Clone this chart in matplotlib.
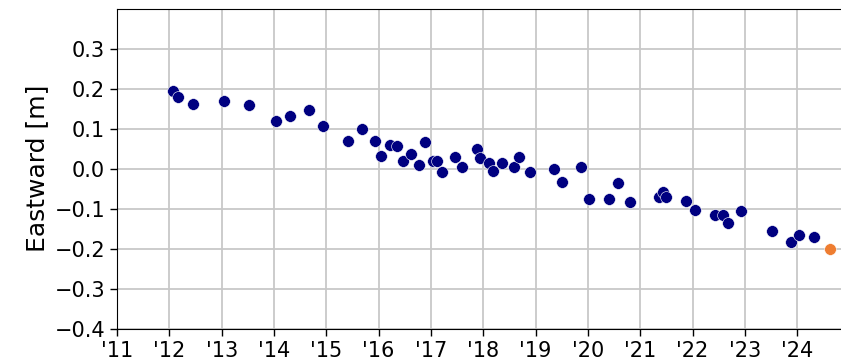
import matplotlib.pyplot as plt
import numpy as np

# GNSS eastward displacement, decimal year vs metres
years = [2012.065, 2012.166, 2012.459, 2013.04, 2013.523, 2014.039, 2014.306,
         2014.67, 2014.943, 2015.419, 2015.688, 2015.931, 2016.045, 2016.217,
         2016.345, 2016.466, 2016.613, 2016.766, 2016.886, 2017.045, 2017.121,
         2017.205, 2017.465, 2017.593, 2017.874, 2017.937, 2018.115, 2018.191,
         2018.352, 2018.593, 2018.683, 2018.893, 2019.346, 2019.504, 2019.862,
         2020.02, 2020.403, 2020.569, 2020.804, 2021.352, 2021.44, 2021.492,
         2021.868, 2022.046, 2022.422, 2022.575, 2022.682, 2022.925, 2023.512,
         2023.88, 2024.039, 2024.32]
east = [0.195, 0.1785, 0.162, 0.170, 0.159, 0.120, 0.1325,
        0.147, 0.106, 0.070, 0.0985, 0.070, 0.0325, 0.060,
        0.057, 0.020, 0.037, 0.0085, 0.066, 0.020, 0.020,
        -0.008, 0.030, 0.005, 0.050, 0.026, 0.0135, -0.005,
        0.0135, 0.005, 0.030, -0.008, -0.001, -0.033, 0.0055,
        -0.075, -0.075, -0.035, -0.083, -0.070, -0.058, -0.0715,
        -0.080, -0.104, -0.116, -0.1165, -0.1365, -0.1065, -0.1565,
        -0.184, -0.1665, -0.1715]

# latest survey, highlighted
latest_year = [2024.625]
latest_east = [-0.200]

tick_years = list(range(2011, 2025))
tick_labels = ["'%02d" % (y % 100) for y in tick_years]
yticks = np.arange(-0.4, 0.31, 0.1)

fig = plt.figure(figsize=(8.41, 3.58), dpi=100)
ax = fig.add_axes([0.1391, 0.0818, 0.8609, 0.8939])

ax.scatter(years, east, s=72, color='#000080', edgecolors='white',
           linewidths=0.4, zorder=3)
ax.scatter(latest_year, latest_east, s=72, color='#ee7d31',
           edgecolors='white', linewidths=0.4, zorder=4)

ax.set_xlim(2011, 2024.836)
ax.set_ylim(-0.4, 0.4)
ax.set_xticks(tick_years)
ax.set_xticklabels(tick_labels)
ax.set_yticks(yticks)
ax.yaxis.set_major_formatter(plt.FuncFormatter(
    lambda v, p: ('%.1f' % v).replace('-', '\u2212') if abs(v) > 1e-9 else '0.0'))

ax.grid(True, color='#c8c8c8', linewidth=1.3)
ax.set_axisbelow(True)
ax.spines['right'].set_visible(False)
ax.tick_params(labelsize=15, length=5, width=1)
ax.set_ylabel('Eastward [m]', fontsize=18)

fig.savefig('out.png', dpi=100)
